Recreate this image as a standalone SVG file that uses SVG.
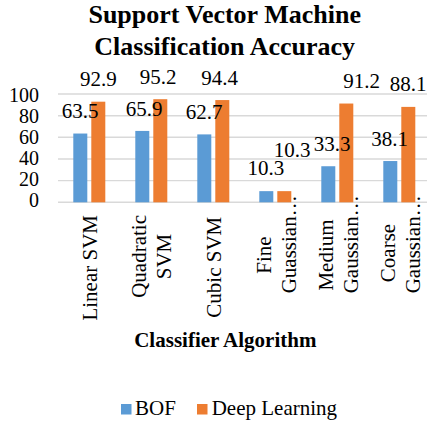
<svg xmlns="http://www.w3.org/2000/svg" width="427" height="422" viewBox="0 0 427 422">
<style>
.grid line{stroke:#d9d9d9;stroke-width:1.4}
.bof{fill:#5b9bd5}
.dlr{fill:#ed7d31}
</style>
<rect width="427" height="422" fill="#fff"/>
<g id="title" font-family="Liberation Serif" font-size="26" font-weight="bold" text-anchor="middle" fill="#000">
<text x="224.7" y="23.3">Support Vector Machine</text>
<text x="224.7" y="55">Classification Accuracy</text>
</g>
<g id="grid" class="grid">
<line x1="58" y1="94" x2="427" y2="94"/>
<line x1="58" y1="115.7" x2="427" y2="115.7"/>
<line x1="58" y1="137.3" x2="427" y2="137.3"/>
<line x1="58" y1="159" x2="427" y2="159"/>
<line x1="58" y1="180.6" x2="427" y2="180.6"/>
<line x1="58" y1="202.3" x2="427" y2="202.3"/>
</g>
<g id="yaxis" font-family="Liberation Serif" font-size="20" text-anchor="end" fill="#000">
<text x="39" y="101.7">100</text>
<text x="39" y="122.7">80</text>
<text x="39" y="143.7">60</text>
<text x="39" y="164.7">40</text>
<text x="39" y="185.7">20</text>
<text x="39" y="206.7">0</text>
</g>
<g id="bars-bof">
<rect class="bof" x="73.3" y="133.53" width="14" height="68.77"/>
<rect class="bof" x="135.3" y="130.93" width="14" height="71.37"/>
<rect class="bof" x="197.3" y="134.4" width="14" height="67.9"/>
<rect class="bof" x="259.3" y="191.15" width="14" height="11.15"/>
<rect class="bof" x="321.3" y="166.24" width="14" height="36.06"/>
<rect class="bof" x="383.3" y="161.04" width="14" height="41.26"/>
</g>
<g id="bars-dl">
<rect class="dlr" x="91.3" y="101.69" width="14" height="100.61"/>
<rect class="dlr" x="153.3" y="99.2" width="14" height="103.1"/>
<rect class="dlr" x="215.3" y="100.06" width="14" height="102.24"/>
<rect class="dlr" x="277.3" y="191.15" width="14" height="11.15"/>
<rect class="dlr" x="339.3" y="103.53" width="14" height="98.77"/>
<rect class="dlr" x="401.3" y="106.89" width="14" height="95.41"/>
</g>
<g id="data-labels" font-family="Liberation Serif" font-size="21" text-anchor="middle" fill="#000">
<text x="80" y="118">63.5</text>
<text x="98.3" y="86">92.9</text>
<text x="144" y="116">65.9</text>
<text x="158" y="84">95.2</text>
<text x="204" y="119">62.7</text>
<text x="219.7" y="85">94.4</text>
<text x="265.8" y="175.4">10.3</text>
<text x="292" y="157">10.3</text>
<text x="332" y="150.5">33.3</text>
<text x="361.7" y="87.5">91.2</text>
<text x="389.5" y="145.5">38.1</text>
<text x="408" y="91">88.1</text>
</g>
<g id="categories" font-family="Liberation Serif" font-size="21" fill="#000">
<text text-anchor="end" transform="translate(97,215) rotate(-90)">Linear SVM</text>
<text text-anchor="end" transform="translate(146.3,215) rotate(-90)">Quadratic</text>
<text text-anchor="middle" transform="translate(171.3,256.5) rotate(-90)">SVM</text>
<text text-anchor="end" transform="translate(220.5,216.7) rotate(-90)">Cubic SVM</text>
<text text-anchor="middle" transform="translate(270.8,255) rotate(-90)">Fine</text>
<text text-anchor="start" transform="translate(295.5,293.3) rotate(-90)">Guassian…</text>
<text text-anchor="middle" transform="translate(332.8,255) rotate(-90)">Medium</text>
<text text-anchor="start" transform="translate(357.8,293.3) rotate(-90)">Gaussian…</text>
<text text-anchor="middle" transform="translate(394.8,253) rotate(-90)">Coarse</text>
<text text-anchor="start" transform="translate(419.8,293.3) rotate(-90)">Gaussian…</text>
</g>
<g id="axis-title" font-family="Liberation Serif" font-size="21" font-weight="bold" text-anchor="middle" fill="#000">
<text x="225.3" y="346.7">Classifier Algorithm</text>
</g>
<g id="legend" font-family="Liberation Serif" font-size="21" fill="#000">
<rect class="bof" x="121" y="404" width="10.5" height="10.5"/>
<text x="135" y="415">BOF</text>
<rect class="dlr" x="197" y="404" width="10.5" height="10.5"/>
<text x="211.7" y="415">Deep Learning</text>
</g>
</svg>
